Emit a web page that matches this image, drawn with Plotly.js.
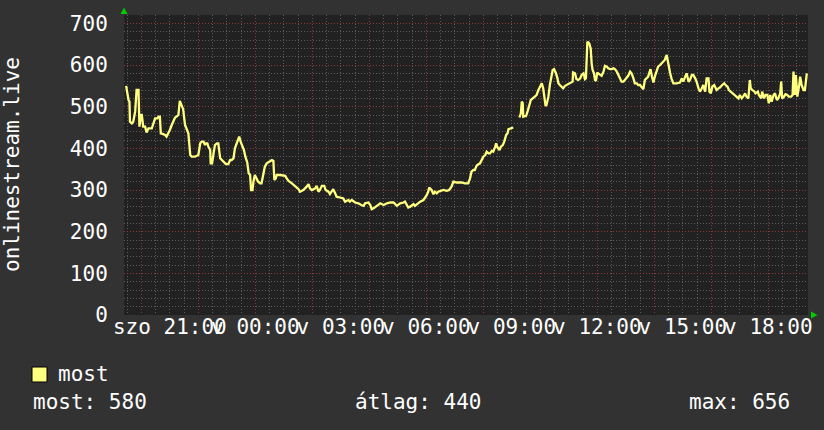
<!DOCTYPE html>
<html><head><meta charset="utf-8">
<script src="https://cdn.plot.ly/plotly-3.0.1.min.js"></script>
<style>html,body{margin:0;padding:0;background:#323232;}</style>
</head><body><div id="chart" style="width:824px;height:430px;"></div>
<script>
// minutes relative to Sunday 00:00 (negative = Saturday evening)
const minutes = [
-272,-269,-267,-265,-264,-260,-257,-253,-250,-246,-244,-241,-239,-236,-232,-229,-225,-218,-215,-211,-206,-204,-201,-199,-194,-190,-187,-183,-180,-176,-173,-169,-166,-162,-159,-155,-152,-148,-145,-141,-137,-134,-127,-123,-120,-116,-113,-109,-106,-104,-101,-99,-95,-94,-91,-88,-85,-81,-78,-74,-71,-67,-62,-57,-53,-50,-46,-43,-39,-36,-34,-31,-27,-24,-21,-17,-14,-11,-9,-6,-4,
-1,6,10,13,17,20,24,31,35,38,40,43,45,52,63,66,70,77,84,91,94,101,108,112,115,119,126,129,133,136,140,145,148,154,157,161,164,168,171,178,185,189,196,199,203,210,217,223,228,231,238,242,245,249,256,263,270,277,284,291,
298,305,312,315,319,322,326,333,336,340,347,354,357,361,364,366,371,375,378,382,385,389,396,403,408,413,417,424,434,441,448,452,455,459,462,465,467,473,477,480,484,487,491,494,498,501,505,507,509,514,517,521,524,528,531,533,538,543,550,556,559,561,563,564,568,570,573,577,580,584,589,
592,596,599,603,606,608,611,613,617,620,624,626,629,633,636,638,641,645,648,652,655,659,662,668,669,673,676,680,684,687,691,694,696,699,703,706,708,710,713,715,717,720,722,726,729,733,736,740,743,747,750,754,757,761,764,768,771,775,778,782,785,789,792,796,799,803,806,810,813,817,820,824,827,829,832,835,838,841,845,848,852,855,859,862,866,869,
873,876,880,887,894,898,901,905,908,912,915,919,922,926,929,933,936,940,943,947,950,954,956,959,962,966,971,975,978,983,987,990,994,997,1001,1006,1010,1013,1017,1020,1024,1027,1031,1034,1038,1041,1043,1046,1051,1053,1058,1060,1065,1067,1071,1074,1078,1081,1084,1087,1091,1094,1098,1101,1105,1107,1109,1113,1116,1120,1123,1128,1131,1133,1136,1138,1141,1145,1147,1150,1154,1157,1161
];
const most = [
550,528,516,512,464,460,464,488,540,540,452,480,480,452,452,438,448,448,460,472,472,476,476,436,434,432,428,436,444,456,464,474,476,480,514,500,494,456,448,436,384,380,380,382,384,412,416,416,408,412,412,404,396,364,364,388,408,412,412,376,372,366,362,362,372,372,376,400,412,424,428,416,404,396,380,366,340,336,300,300,320,
336,320,316,316,336,356,364,368,372,370,324,328,336,336,334,328,322,316,308,302,296,300,308,314,304,300,304,310,296,300,310,310,300,296,290,296,302,292,284,282,280,272,276,272,276,270,268,264,262,268,270,264,254,256,262,268,264,268,270,270,
262,268,270,272,264,258,260,266,262,266,272,276,280,288,296,306,300,290,296,292,296,298,300,298,300,308,320,318,318,316,316,328,344,348,348,356,360,364,372,380,384,392,388,388,394,392,404,412,404,396,404,408,416,432,436,446,448,450,null,474,484,512,508,476,478,478,488,508,516,520,524,
528,540,548,556,544,528,502,504,524,552,572,588,590,580,568,556,552,546,544,550,552,556,558,560,582,580,566,564,568,576,580,566,568,656,652,640,604,588,580,564,562,582,580,576,574,584,598,596,592,590,590,592,590,584,576,564,560,560,564,572,574,584,580,568,556,556,552,552,548,542,564,568,572,580,590,572,558,572,588,596,600,604,608,612,624,604,
582,568,556,556,558,568,560,572,580,560,564,576,576,568,560,544,536,544,552,536,568,568,536,532,548,552,540,544,546,552,556,552,548,540,536,532,528,524,520,528,520,524,532,524,520,564,544,540,536,532,536,528,520,536,520,528,528,508,528,512,528,532,516,520,532,560,520,524,530,528,524,524,528,584,528,576,524,552,572,552,540,540,580
];
const tickMinutes = [-180, 0, 180, 360, 540, 720, 900, 1080];
const tickLabels = ["szo 21:00", "v 00:00", "v 03:00", "v 06:00", "v 09:00", "v 12:00", "v 15:00", "v 18:00"];
const yTickValues = [0, 100, 200, 300, 400, 500, 600, 700];
const seriesName = "most";
const axisTitle = "onlinestream.live";
const statLabels = ["most: 580", "átlag: 440", "max: 656"];

const xRange = [-276.5, 1163.5];
const yRange = [0, 720];
const W = 824, H = 430, L = 124, R = 16, T = 15, B = 115;
const pw = W - L - R, ph = H - T - B;
const px = v => (v - L) / pw;
const py = v => (H - B - v) / ph;
const mono = "DejaVu Sans Mono, monospace";
const lineColor = "#ffff80";
const majorGrid = "#8a3a3a", minorGrid = "#5c5c5c", dash = "1px,2px";

const trace = {
  type: "scatter", mode: "lines", x: minutes, y: most, name: seriesName,
  xaxis: "x", yaxis: "y",
  line: {color: lineColor, width: 2.3}, connectgaps: false, hoverinfo: "skip"
};
// same series on the label axis (invisible) so that the label axis is drawn
const labelTrace = Object.assign({}, trace, {xaxis: "x2", opacity: 0});

const layout = {
  width: W, height: H,
  margin: {l: L, r: R, t: T, b: B},
  paper_bgcolor: "#323232", plot_bgcolor: "#212121",
  showlegend: false,
  font: {family: mono, size: 21, color: "#ffffff"},
  xaxis: {
    range: xRange, tickmode: "linear", tick0: 0, dtick: 120,
    showticklabels: false, ticks: "", zeroline: false, showline: false,
    showgrid: true, gridcolor: majorGrid, griddash: dash, gridwidth: 1,
    minor: {tickmode: "linear", tick0: 0, dtick: 30, showgrid: true, gridcolor: minorGrid, griddash: dash, gridwidth: 1}
  },
  xaxis2: {
    overlaying: "x", range: xRange, side: "bottom", anchor: "y",
    tickmode: "array", tickvals: tickMinutes, ticktext: tickLabels, tickangle: 0,
    showgrid: false, zeroline: false, showline: false,
    ticks: "", ticklabelstandoff: -3,
    tickfont: {family: mono, size: 21, color: "#ffffff"}
  },
  yaxis: {
    range: yRange, tickmode: "array", tickvals: yTickValues,
    zeroline: false, showline: false,
    ticks: "outside", ticklen: 11, tickcolor: "rgba(0,0,0,0)",
    tickfont: {family: mono, size: 21, color: "#ffffff"},
    showgrid: true, gridcolor: majorGrid, griddash: dash, gridwidth: 1,
    minor: {tickmode: "linear", tick0: 0, dtick: 20, showgrid: true, gridcolor: minorGrid, griddash: dash, gridwidth: 1}
  },
  shapes: [
    {type: "rect", xref: "paper", yref: "paper", x0: px(32), x1: px(47), y0: py(382), y1: py(367),
     fillcolor: lineColor, line: {color: "#000000", width: 1}},
    {type: "path", xref: "paper", yref: "paper",
     path: `M ${px(120.5)} ${py(14)} L ${px(127.5)} ${py(14)} L ${px(124)} ${py(7.5)} Z`,
     fillcolor: "#00cc00", line: {width: 0}},
    {type: "path", xref: "paper", yref: "paper",
     path: `M ${px(811)} ${py(311.5)} L ${px(811)} ${py(318.5)} L ${px(817.5)} ${py(315)} Z`,
     fillcolor: "#00cc00", line: {width: 0}}
  ],
  annotations: [
    {xref: "paper", yref: "paper", x: px(12), y: 0.5, text: axisTitle, textangle: -90,
     showarrow: false, xanchor: "center", yanchor: "middle", font: {family: mono, size: 21, color: "#ffffff"}},
    {xref: "paper", yref: "paper", x: px(56), y: py(374), text: seriesName, showarrow: false,
     xanchor: "left", yanchor: "middle", font: {family: mono, size: 21, color: "#ffffff"}},
    {xref: "paper", yref: "paper", x: px(31), y: py(402), text: statLabels[0], showarrow: false,
     xanchor: "left", yanchor: "middle", font: {family: mono, size: 21, color: "#ffffff"}},
    {xref: "paper", yref: "paper", x: px(353), y: py(402), text: statLabels[1], showarrow: false,
     xanchor: "left", yanchor: "middle", font: {family: mono, size: 21, color: "#ffffff"}},
    {xref: "paper", yref: "paper", x: px(687), y: py(402), text: statLabels[2], showarrow: false,
     xanchor: "left", yanchor: "middle", font: {family: mono, size: 21, color: "#ffffff"}}
  ]
};

Plotly.newPlot("chart", [trace, labelTrace], layout, {staticPlot: true, displayModeBar: false});
</script></body></html>
